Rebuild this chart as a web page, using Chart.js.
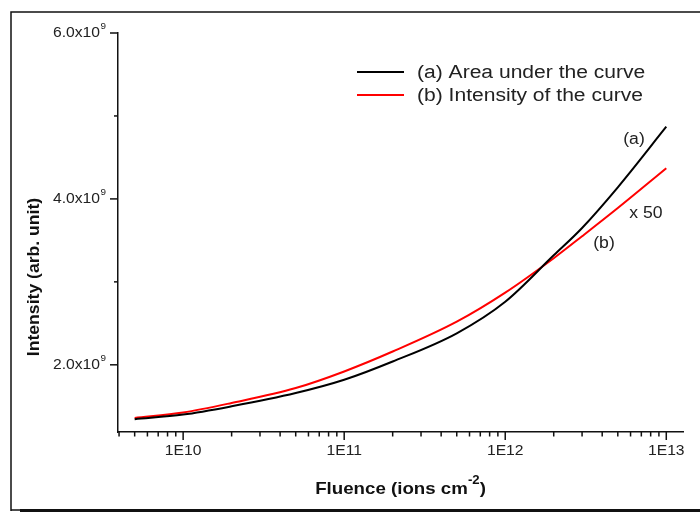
<!DOCTYPE html>
<html>
<head>
<meta charset="utf-8">
<script src="https://cdn.jsdelivr.net/npm/chart.js@4.4.1/dist/chart.umd.min.js"></script>
<style>
  html, body { margin: 0; padding: 0; background: #fff; }
  #wrap { width: 700px; height: 513px; position: relative; }
</style>
</head>
<body>
<div id="wrap"><canvas id="grafico" width="700" height="513"></canvas></div>
<script>
// Datos
const fluencia = [5e9, 1e10, 2e10, 5e10, 1e11, 2e11, 5e11, 1e12, 2e12, 3e12, 5e12, 1e13];
const areaCurva = [1.345e9, 1.40e9, 1.50e9, 1.66e9, 1.82e9, 2.04e9, 2.38e9, 2.76e9, 3.32e9, 3.65e9, 4.14e9, 4.87e9];
const intensidadCurva = [1.36e9, 1.425e9, 1.54e9, 1.72e9, 1.92e9, 2.16e9, 2.52e9, 2.87e9, 3.285e9, 3.55e9, 3.89e9, 4.37e9];

const nombresSeries = ['(a) Area under the curve', '(b) Intensity of the curve'];
const xTicks = [1e10, 1e11, 1e12, 1e13];
const xTickLabels = ['1E10', '1E11', '1E12', '1E13'];
const yTicks = [2e9, 4e9, 6e9];
const yTickLabels = ['2.0x10', '4.0x10', '6.0x10'];
const yTickExp = '9';
const yMinorTicks = [3e9, 5e9];

function menoresLog(min, max) {
    const out = [];
    for (let d = 1e9; d <= max; d *= 10) {
        for (let k = 2; k <= 9; k++) {
            const v = k * d;
            if (v >= min && v <= max) out.push(v);
        }
    }
    return out;
}

function puntos(ys) {
    return fluencia.map((x, i) => ({ x: x, y: ys[i] }));
}

function texto(ctx, str, x, y, sx, align) {
    ctx.save();
    ctx.translate(x, y);
    ctx.scale(sx, 1);
    ctx.textAlign = align;
    ctx.fillText(str, 0, 0);
    ctx.restore();
}

const fuente = "'Liberation Sans', Arial, sans-serif";

const dibujoExtra = {
    id: 'dibujoExtra',
    beforeDraw(chart) {
        const ctx = chart.ctx;
        ctx.save();
        ctx.fillStyle = '#fff';
        ctx.fillRect(0, 0, chart.width, chart.height);
        // marco exterior
        ctx.strokeStyle = '#111';
        ctx.lineWidth = 1.5;
        ctx.beginPath();
        ctx.moveTo(11, 511);
        ctx.lineTo(11, 12);
        ctx.lineTo(700, 12);
        ctx.stroke();
        ctx.lineWidth = 3;
        ctx.beginPath();
        ctx.moveTo(20, 510.5);
        ctx.lineTo(700, 510.5);
        ctx.stroke();
        ctx.lineWidth = 1.5;
        ctx.beginPath();
        ctx.moveTo(11, 510);
        ctx.lineTo(20, 510);
        ctx.stroke();
        ctx.restore();
    },
    afterDraw(chart) {
        const ctx = chart.ctx;
        const xs = chart.scales.x;
        const ys = chart.scales.y;
        const area = chart.chartArea;
        ctx.save();
        ctx.strokeStyle = '#111';
        ctx.lineWidth = 1.5;

        // marcas eje x
        xTicks.forEach(v => {
            const px = xs.getPixelForValue(v);
            ctx.beginPath(); ctx.moveTo(px, area.bottom); ctx.lineTo(px, area.bottom + 8); ctx.stroke();
        });
        menoresLog(xs.min, xs.max).forEach(v => {
            if (xTicks.includes(v)) return;
            const px = xs.getPixelForValue(v);
            ctx.beginPath(); ctx.moveTo(px, area.bottom); ctx.lineTo(px, area.bottom + 4.5); ctx.stroke();
        });
        // marcas eje y
        yTicks.forEach(v => {
            const py = ys.getPixelForValue(v);
            ctx.beginPath(); ctx.moveTo(area.left, py); ctx.lineTo(area.left - 8, py); ctx.stroke();
        });
        yMinorTicks.forEach(v => {
            const py = ys.getPixelForValue(v);
            ctx.beginPath(); ctx.moveTo(area.left, py); ctx.lineTo(area.left - 4, py); ctx.stroke();
        });

        // etiquetas
        ctx.fillStyle = '#222';
        ctx.textBaseline = 'middle';
        ctx.font = '14px ' + fuente;
        xTicks.forEach((v, i) => {
            texto(ctx, xTickLabels[i], xs.getPixelForValue(v), area.bottom + 19, 1.12, 'center');
        });
        yTicks.forEach((v, i) => {
            const py = ys.getPixelForValue(v);
            ctx.font = '9px ' + fuente;
            texto(ctx, yTickExp, 106, py - 6, 1.1, 'right');
            ctx.font = '14px ' + fuente;
            texto(ctx, yTickLabels[i], 100, py, 1.12, 'right');
        });

        // titulos de ejes
        ctx.fillStyle = '#111';
        ctx.font = 'bold 17px ' + fuente;
        ctx.textBaseline = 'alphabetic';
        const t1 = 'Fluence (ions cm';
        const w1 = ctx.measureText(t1).width * 1.1;
        ctx.font = 'bold 12px ' + fuente;
        const w2 = ctx.measureText('-2').width * 1.1;
        ctx.font = 'bold 17px ' + fuente;
        const w3 = ctx.measureText(')').width * 1.1;
        let x0 = (area.left + area.right) / 2 - (w1 + w2 + w3) / 2;
        texto(ctx, t1, x0, 494, 1.1, 'left');
        ctx.font = 'bold 12px ' + fuente;
        texto(ctx, '-2', x0 + w1, 484, 1.1, 'left');
        ctx.font = 'bold 17px ' + fuente;
        texto(ctx, ')', x0 + w1 + w2, 494, 1.1, 'left');

        ctx.save();
        ctx.translate(39, 277);
        ctx.rotate(-Math.PI / 2);
        ctx.font = 'bold 16px ' + fuente;
        ctx.textAlign = 'center';
        ctx.scale(1.1, 1);
        ctx.fillText('Intensity (arb. unit)', 0, 0);
        ctx.restore();

        // leyenda
        const colores = ['#000000', '#ff0000'];
        ctx.textBaseline = 'middle';
        ctx.font = '18px ' + fuente;
        [72, 95].forEach((yy, i) => {
            ctx.strokeStyle = colores[i];
            ctx.lineWidth = 2;
            ctx.beginPath(); ctx.moveTo(357, yy); ctx.lineTo(404, yy); ctx.stroke();
            ctx.fillStyle = '#222';
            texto(ctx, nombresSeries[i], 417, yy + 1, 1.17, 'left');
        });

        // notas
        ctx.font = '16px ' + fuente;
        texto(ctx, '(a)', 634, 140, 1.1, 'center');
        texto(ctx, 'x 50', 646, 214, 1.1, 'center');
        texto(ctx, '(b)', 604, 244, 1.1, 'center');
        ctx.restore();
    }
};

new Chart(document.getElementById('grafico'), {
    type: 'line',
    data: {
        datasets: [{
            label: nombresSeries[0],
            data: puntos(areaCurva),
            borderColor: '#000000',
            borderWidth: 2,
            pointRadius: 0,
            cubicInterpolationMode: 'monotone',
            fill: false
        }, {
            label: nombresSeries[1],
            data: puntos(intensidadCurva),
            borderColor: '#ff0000',
            borderWidth: 2,
            pointRadius: 0,
            cubicInterpolationMode: 'monotone',
            fill: false
        }]
    },
    options: {
        responsive: false,
        animation: false,
        devicePixelRatio: 1,
        layout: { padding: { top: 33, right: 17, left: 0, bottom: 0 } },
        plugins: { legend: { display: false }, tooltip: { enabled: false } },
        scales: {
            x: {
                type: 'logarithmic',
                min: 3.94e9,
                max: 1.27e13,
                grid: { display: false, drawTicks: false },
                border: { display: true, color: '#111', width: 1.5 },
                ticks: { display: false },
                afterFit(scale) { scale.height = 81; }
            },
            y: {
                type: 'linear',
                min: 1.19e9,
                max: 6.0e9,
                grid: { display: false, drawTicks: false },
                border: { display: true, color: '#111', width: 1.5 },
                ticks: { display: false },
                afterFit(scale) { scale.width = 118; }
            }
        }
    },
    plugins: [dibujoExtra]
});
</script>
</body>
</html>
